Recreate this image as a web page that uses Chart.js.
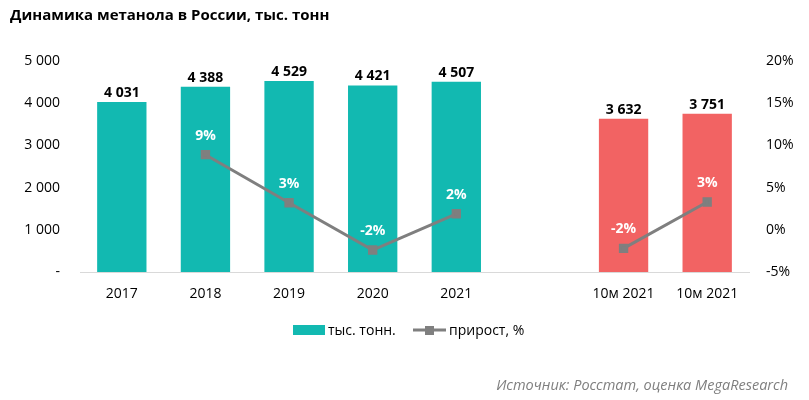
<!DOCTYPE html>
<html><head><meta charset="utf-8">
<script src="https://cdn.jsdelivr.net/npm/chart.js@4/dist/chart.umd.min.js"></script>
<style>html,body{margin:0;padding:0;background:#fff}#wrap{width:809px;height:400px;position:relative}</style>
</head><body><div id="wrap"><canvas id="c" width="809" height="400"></canvas></div>
<script>
const categories = ['2017','2018','2019','2020','2021','','10м 2021','10м 2021'];
const volumes = [4031, 4388, 4529, 4421, 4507, null, 3632, 3751];
const growth = [null, 8.9, 3.2, -2.4, 1.9, null, -2.2, 3.3];
const growthLabels = [null, '9%', '3%', '-2%', '2%', null, '-2%', '3%'];
const isTenMonth = [false, false, false, false, false, false, true, true];
const leftTicks = [0, 1000, 2000, 3000, 4000, 5000];
const rightTicks = [-5, 0, 5, 10, 15, 20];

const TEAL = '#12B9B1', RED = '#F26363', GREY = '#7F7F7F';
const FONT = "'Open Sans', 'Noto Sans', sans-serif";

function fmt(n){ return n === 0 ? '-' : String(n).replace(/\B(?=(\d{3})+(?!\d))/g, ' '); }

const labelsPlugin = {
  id: 'labels',
  afterDatasetsDraw(chart){
    const ctx = chart.ctx;
    const bars = chart.getDatasetMeta(0).data;
    const pts = chart.getDatasetMeta(1).data;
    ctx.save();
    ctx.textAlign = 'center'; ctx.textBaseline = 'middle';
    ctx.font = "bold 14px " + FONT; ctx.fillStyle = '#000';
    volumes.forEach((v,i)=>{ if(v==null) return; const b = bars[i]; ctx.fillText(fmt(v), b.x, b.y - 9); });
    ctx.fillStyle = '#fff';
    growth.forEach((v,i)=>{ if(v==null) return; const p = pts[i]; ctx.fillText(growthLabels[i], p.x, p.y - 19); });
    ctx.restore();
  },
  afterDraw(chart){
    const ctx = chart.ctx;
    ctx.save();
    ctx.textBaseline = 'middle'; ctx.textAlign = 'left';
    ctx.fillStyle = '#000'; ctx.font = "bold 15px " + FONT;
    ctx.fillText('Динамика метанола в России, тыс. тонн', 10, 16);
    // legend
    ctx.font = "14px " + FONT; ctx.fillStyle = TEAL;
    ctx.fillRect(293, 325, 32, 10);
    ctx.fillStyle = '#000';
    ctx.fillText('тыс. тонн.', 328, 331);
    ctx.strokeStyle = GREY; ctx.lineWidth = 3;
    ctx.beginPath(); ctx.moveTo(413, 330); ctx.lineTo(446, 330); ctx.stroke();
    ctx.fillStyle = GREY; ctx.fillRect(425, 326, 9, 9);
    ctx.fillStyle = '#000';
    ctx.fillText('прирост, %', 449, 331);
    // source
    ctx.textAlign = 'right'; ctx.fillStyle = '#7F7F7F'; ctx.font = "italic 14.5px " + FONT;
    ctx.fillText('Источник: Росстат, оценка MegaResearch', 788, 386);
    ctx.restore();
  }
};

new Chart(document.getElementById('c'), {
  data: {
    labels: categories,
    datasets: [
      { type: 'bar', label: 'тыс. тонн.', data: volumes, yAxisID: 'y',
        backgroundColor: isTenMonth.map(t => t ? RED : TEAL), categoryPercentage: 1, barPercentage: 0.59, order: 2 },
      { type: 'line', label: 'прирост, %', data: growth, yAxisID: 'y1', borderColor: GREY, backgroundColor: GREY,
        borderWidth: 3, pointStyle: 'rect', pointRadius: 4.5, pointHoverRadius: 4.5, spanGaps: false, order: 1, tension: 0 }
    ]
  },
  options: {
    responsive: false, animation: false, devicePixelRatio: 1,
    layout: { padding: { top: 61, left: 0, right: 0, bottom: 0 } },
    plugins: { legend: { display: false }, tooltip: { enabled: false } },
    scales: {
      x: { grid: { display: false, drawTicks: false }, border: { display: true, color: '#D9D9D9', width: 1 },
        ticks: { color: '#000', font: { family: FONT, size: 14 }, padding: 14, maxRotation: 0, autoSkip: false },
        afterFit(s){ s.height = 128; } },
      y: { position: 'left', min: 0, max: 5000, grid: { display: false, drawTicks: false }, border: { display: false },
        afterBuildTicks(s){ s.ticks = leftTicks.map(v => ({ value: v })); },
        ticks: { color: '#000', font: { family: FONT, size: 14 }, padding: 20, callback: v => fmt(v) },
        afterFit(s){ s.width = 80; } },
      y1: { position: 'right', min: -5, max: 20, grid: { display: false, drawTicks: false }, border: { display: false },
        afterBuildTicks(s){ s.ticks = rightTicks.map(v => ({ value: v })); },
        ticks: { color: '#000', font: { family: FONT, size: 14 }, padding: 17, callback: v => v + '%' },
        afterFit(s){ s.width = 60; } }
    }
  },
  plugins: [labelsPlugin]
});
</script></body></html>
